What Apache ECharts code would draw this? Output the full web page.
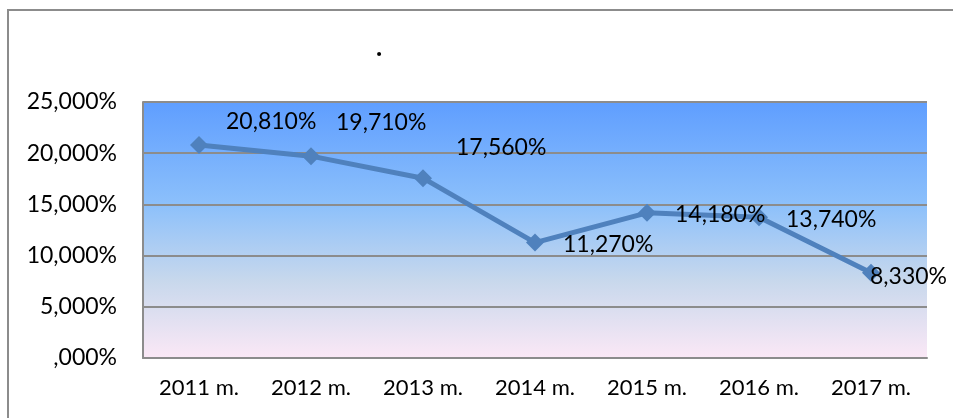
<!DOCTYPE html>
<html>
<head>
<meta charset="utf-8">
<script src="https://cdn.jsdelivr.net/npm/echarts@6/dist/echarts.min.js"></script>
<style>
  html, body { margin: 0; padding: 0; background: #fff; }
  #chart { width: 953px; height: 418px; }
</style>
</head>
<body>
<div id="chart"></div>
<script>
// data
var years = ['2011 m.', '2012 m.', '2013 m.', '2014 m.', '2015 m.', '2016 m.', '2017 m.'];
var rates = [20.81, 19.71, 17.56, 11.27, 14.18, 13.74, 8.33];
var yTicks = [0, 5, 10, 15, 20, 25];

// label nudges (pixels), one per point
var labelNudge = [[18, -23], [16, -34], [24, -31], [19, 2], [19, 2], [18, 2], [-10, 4]];

function pct(v) {
  var s = v.toFixed(3).replace('.', ',') + '%';
  return v === 0 ? s.replace(/^0/, '') : s;
}

var font = 'Lato, "Open Sans", sans-serif';
var myChart = echarts.init(document.getElementById('chart'));

var options = {
  animation: false,
  title: {
    text: '.',
    left: 374,
    top: 30,
    textAlign: 'center',
    textStyle: { fontFamily: font, fontSize: 26, fontWeight: 'bold', color: '#000' }
  },
  graphic: [{
    type: 'rect',
    shape: { x: 8, y: 10, width: 1000, height: 500 },
    style: { fill: 'none', stroke: '#8c8c8c', lineWidth: 2 },
    silent: true
  }],
  grid: {
    left: 143, top: 102, right: 26, bottom: 60,
    show: true,
    borderWidth: 0,
    backgroundColor: {
      type: 'linear', x: 0, y: 0, x2: 0, y2: 1,
      colorStops: [
        { offset: 0, color: '#5f9eff' },
        { offset: 0.4, color: '#8cc0fb' },
        { offset: 0.7, color: '#c8d8ec' },
        { offset: 1, color: '#fbe8f6' }
      ]
    }
  },
  xAxis: {
    type: 'category',
    data: years,
    boundaryGap: true,
    axisLine: { lineStyle: { color: '#8c8c8c', width: 2 } },
    axisTick: { show: false },
    axisLabel: { color: '#000', fontFamily: font, fontSize: 22, margin: 19 }
  },
  yAxis: {
    type: 'value',
    min: yTicks[0],
    max: yTicks[yTicks.length - 1],
    interval: 5,
    axisLine: { show: true, lineStyle: { color: '#8c8c8c', width: 2 } },
    axisTick: { show: false },
    splitLine: { lineStyle: { color: '#8c8c8c', width: 2 } },
    axisLabel: { color: '#000', fontFamily: font, fontSize: 23, margin: 26, formatter: pct }
  },
  series: [{
    type: 'line',
    data: rates.map(function (v, i) {
      return { value: v, label: { offset: labelNudge[i] } };
    }),
    lineStyle: { color: '#4f81bd', width: 5 },
    itemStyle: { color: '#4f81bd' },
    symbol: 'diamond',
    symbolSize: 18,
    label: {
      show: true,
      position: 'right',
      distance: 0,
      color: '#000',
      fontFamily: font,
      fontSize: 23,
      formatter: function (p) { return pct(p.value); }
    }
  }]
};

myChart.setOption(options, true);
</script>
</body>
</html>
